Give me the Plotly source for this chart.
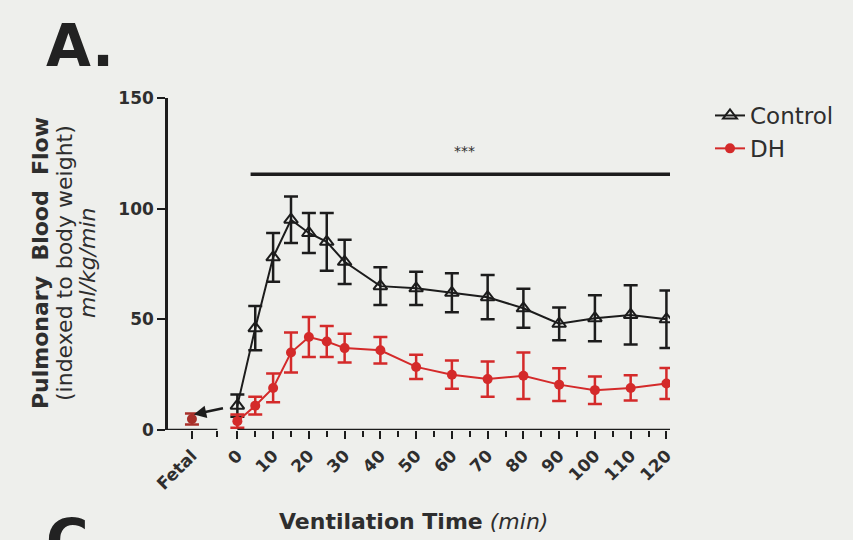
import plotly.graph_objects as go

# ---- data ----
times = [0, 5, 10, 15, 20, 25, 30, 40, 50, 60, 70, 80, 90, 100, 110, 120]
control = [11, 46, 78, 95, 89, 85, 76, 65, 64, 62, 60, 55, 48, 50.5, 52, 50]
control_err = [5, 10, 11, 10.5, 9, 13, 10, 8.5, 7.5, 8.8, 10, 8.8, 7.4, 10.4, 13.4, 13]
dh = [4, 11, 19, 35, 42, 40, 37, 36, 28.5, 25, 23, 24.5, 20.5, 18, 19, 21]
dh_err = [3, 4, 6.5, 9, 9, 7, 6.5, 6, 5.5, 6.4, 8, 10.5, 7.4, 6.2, 5.7, 7]
fetal_control = 7
fetal_dh = 5
fetal_err = 2.5
tick_labels = ["Fetal", "0", "10", "20", "30", "40", "50", "60", "70", "80", "90", "100", "110", "120"]
y_ticks = [0, 50, 100, 150]

FETAL_X = -12.7
X_MIN, X_MAX = -19.4, 121
SEG_END = -5.6
BLACK = "#1c1c1c"
RED = "#d42a2a"
TXT = "#2e2e2e"
FONT = "DejaVu Sans, sans-serif"

# plot-area geometry (px) used to place paper-space annotations
L, R, T, B = 168, 183, 98, 110
PW, PH = 853 - L - R, 540 - T - B
def px(xp):
    return (xp - L) / PW
def py(yp):
    return (540 - B - yp) / PH

fig = go.Figure()

fig.add_trace(go.Scatter(
    x=times, y=control, name="Control", mode="lines+markers",
    line=dict(color=BLACK, width=2),
    marker=dict(symbol="triangle-up-open", size=12, color=BLACK, line=dict(width=2)),
    error_y=dict(type="data", array=control_err, color=BLACK, thickness=2.5, width=7),
))
fig.add_trace(go.Scatter(
    x=times, y=dh, name="DH", mode="lines+markers",
    line=dict(color=RED, width=2),
    marker=dict(symbol="circle", size=10, color=RED),
    error_y=dict(type="data", array=dh_err, color=RED, thickness=2.5, width=7),
))
fig.add_trace(go.Scatter(
    x=[FETAL_X], y=[fetal_dh], mode="markers", showlegend=False,
    marker=dict(symbol="circle", size=10, color="#a8302a"),
    error_y=dict(type="data", array=[fetal_err], color="#a8302a", thickness=2.5, width=7),
))

# broken x axis line
for x0, x1 in [(X_MIN, SEG_END), (0, X_MAX)]:
    fig.add_shape(type="line", xref="x", yref="y", x0=x0, x1=x1, y0=0, y1=0,
                  line=dict(color=BLACK, width=2.5))

# significance bar
fig.add_shape(type="line", xref="x", yref="y", x0=3.7, x1=121, y0=115.5, y1=115.5,
              line=dict(color=BLACK, width=3.5))
fig.add_annotation(x=63.5, y=126, xref="x", yref="y", text="***", showarrow=False,
                   yanchor="middle", font=dict(size=14, color=TXT, family=FONT))

# arrow at fetal (control)
fig.add_annotation(x=FETAL_X + 0.5, y=fetal_control, ax=SEG_END + 2, ay=fetal_control + 3,
                   xref="x", yref="y", axref="x", ayref="y", showarrow=True,
                   arrowhead=2, arrowsize=1, arrowwidth=2.5, arrowcolor=BLACK, text="")

# y-axis title (three lines)
ytitle = [("<b>Pulmonary  Blood  Flow</b>", 40), ("(indexed to body weight)", 64), ("<i>ml/kg/min</i>", 87)]
for txt, xc in ytitle:
    fig.add_annotation(x=px(xc), y=py(263), xref="paper", yref="paper", text=txt,
                       textangle=-90, showarrow=False, xanchor="center", yanchor="middle",
                       font=dict(size=22, color=TXT, family=FONT))

# x-axis title
fig.add_annotation(x=px(413), y=py(521), xref="paper", yref="paper",
                   text="<b>Ventilation Time</b> <i>(min)</i>", showarrow=False,
                   xanchor="center", yanchor="middle", font=dict(size=22, color=TXT, family=FONT))

# panel labels
fig.add_annotation(x=px(44), y=py(10), xref="paper", yref="paper", xanchor="left", yanchor="top",
                   text="<b>A.</b>", showarrow=False,
                   font=dict(size=58, color="#222", family=FONT))
fig.add_annotation(x=px(44), y=py(505), xref="paper", yref="paper", xanchor="left", yanchor="top",
                   text="<b>C</b>", showarrow=False,
                   font=dict(size=58, color="#222", family=FONT))

fig.update_layout(
    width=853, height=540,
    margin=dict(l=L, r=R, t=T, b=B),
    paper_bgcolor="#eeefec", plot_bgcolor="rgba(0,0,0,0)",
    font=dict(family=FONT, color=TXT),
    showlegend=True,
    legend=dict(x=px(710), y=py(94), xanchor="left", yanchor="top", bgcolor="rgba(0,0,0,0)",
                font=dict(size=23, color=TXT, family=FONT), itemwidth=30),
    xaxis=dict(
        range=[X_MIN, X_MAX], showline=False, showgrid=False, zeroline=False,
        tickmode="array", tickvals=[FETAL_X] + list(range(0, 121, 10)), ticktext=tick_labels,
        tickangle=-45, ticks="outside", ticklen=8, tickwidth=2, tickcolor=BLACK,
        tickfont=dict(size=17, color=TXT, family=FONT, weight="bold"),
        minor=dict(tickmode="array", tickvals=[SEG_END] + list(range(5, 120, 10)),
                   ticks="outside", ticklen=6, tickwidth=2, tickcolor=BLACK),
    ),
    yaxis=dict(
        range=[0, 150], showline=True, linecolor=BLACK, linewidth=2.5, showgrid=False, zeroline=False,
        tickvals=y_ticks, ticks="outside", ticklen=8, tickwidth=2, tickcolor=BLACK,
        tickfont=dict(size=17, color=TXT, family=FONT, weight="bold"),
    ),
)

fig.write_html("out.html")
